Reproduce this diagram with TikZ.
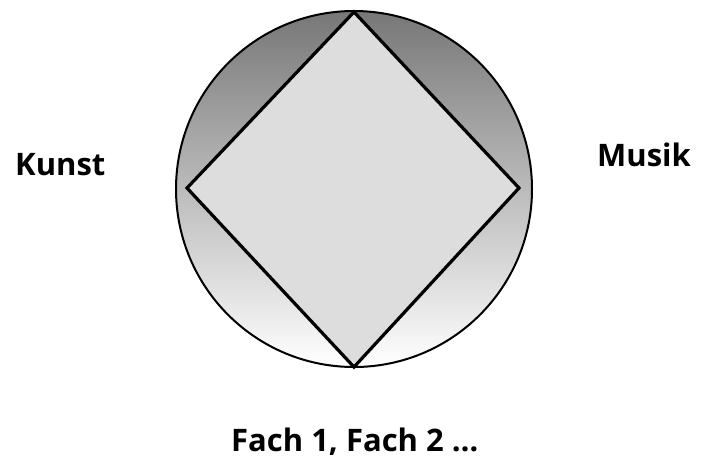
\documentclass[tikz,border=0pt]{standalone}
\usepackage{fontspec}
\setmainfont{Open Sans}[BoldFont={Open Sans Bold}]
\definecolor{topgray}{HTML}{777777}
\definecolor{diafill}{HTML}{DDDDDD}
\begin{document}
\begin{tikzpicture}[x=1pt,y=-1pt,
  lbl/.style={anchor=base west,inner sep=0pt,font=\fontsize{31}{35}\selectfont\bfseries}]
\useasboundingbox (0,0) rectangle (702,459);
\shade[top color=topgray,bottom color=white] (354,189) circle[radius=178];
\draw[line width=2pt] (354,189) circle[radius=178];
\coordinate (T) at (354,12);
\coordinate (R) at (519,188);
\coordinate (B) at (354,367);
\coordinate (L) at (187,188);
\draw[line width=3.2pt,line join=miter,fill=diafill] (T) -- (R) -- (B) -- (L) -- cycle;
\node[lbl] (kunst) at (15,175) {Kunst};
\node[lbl] (musik) at (597,166) {Musik};
\node[lbl] (fach) at (231,451) {Fach 1, Fach 2 …};
\end{tikzpicture}
\end{document}
